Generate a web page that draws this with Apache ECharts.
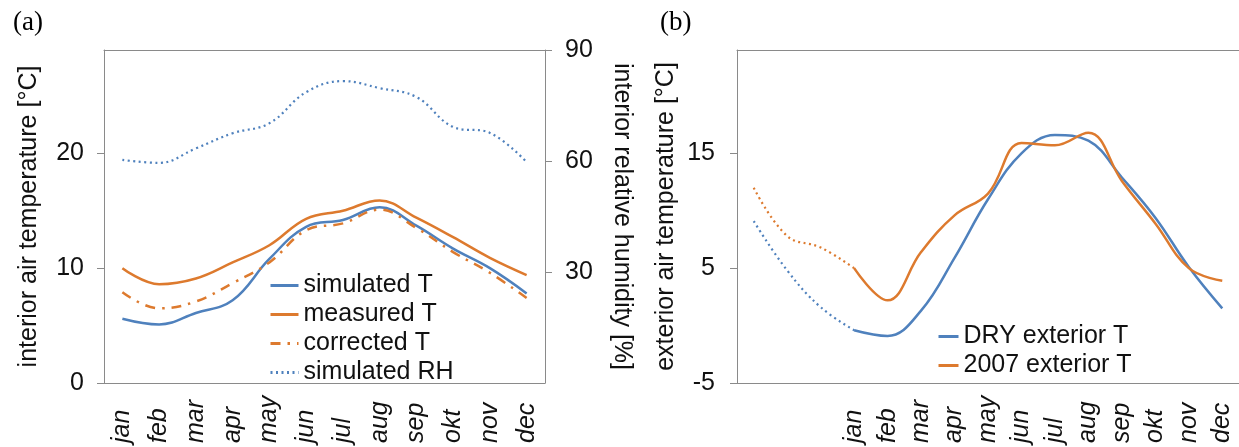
<!DOCTYPE html>
<html>
<head>
<meta charset="utf-8">
<script src="https://cdn.jsdelivr.net/npm/echarts@6/dist/echarts.min.js"></script>
<style>
  html, body { margin: 0; padding: 0; background: #fff; }
  #chart { width: 1239px; height: 447px; }
</style>
</head>
<body>
<div id="chart"></div>
<script>
// months on both panels; panel b has three unlabeled months of the previous year
const months = ['jan', 'feb', 'mar', 'apr', 'may', 'jun', 'jul', 'aug', 'sep', 'okt', 'nov', 'dec'];
const monthsB = ['', '', '', ...months];

// panel (a): interior climate
const simulatedT = [5.6, 5.1, 6.1, 7.2, 10.8, 13.6, 14.2, 15.3, 13.7, 11.7, 10.0, 7.8];
const measuredT = [10.0, 8.6, 9.1, 10.5, 12.0, 14.3, 15.0, 15.9, 14.4, 12.7, 10.9, 9.4];
const correctedT = [7.9, 6.5, 7.1, 8.7, 10.5, 13.3, 13.9, 15.1, 13.5, 11.4, 9.6, 7.4];
const simulatedRH = [60.3, 59.5, 63.4, 67.5, 70.2, 78.6, 81.6, 79.7, 77.3, 69.2, 67.6, 59.7];

// panel (b): exterior temperature (first three points = end of previous year)
const dryT = [9.1, 4.8, 1.6, -0.4, -0.9, 1.3, 5.9, 11.0, 15.0, 16.6, 16.1, 12.9, 9.4, 5.1, 1.5];
const y2007T = [12.0, 7.8, 6.8, 5.0, 2.2, 6.4, 9.6, 11.5, 15.9, 15.7, 16.8, 12.6, 8.9, 5.0, 3.9];

const ticksTempA = [0, 10, 20];
const ticksRH = [30, 60, 90];
const ticksTempB = [-5, 5, 15];

const BLUE = '#4F81BD';
const ORANGE = '#DD7A2E';
const AXIS = '#8a8a8a';
const FONT = 'Liberation Sans, Arial, sans-serif';
const FS = 25;

// split panel b series into dotted (previous year) and solid parts
const prior = arr => arr.map((v, i) => (i <= 3 ? v : null));
const current = arr => arr.map((v, i) => (i >= 3 ? v : null));

const axisLine = { show: true, onZero: false, lineStyle: { color: AXIS, width: 1 } };
const tickStyle = { show: true, inside: false, length: 7, lineStyle: { color: AXIS } };
const labelStyle = { color: '#111', fontSize: FS, fontFamily: FONT };

function catAxis(gridIndex, data) {
  return {
    type: 'category', gridIndex, data, boundaryGap: true,
    axisLine, axisTick: { show: false },
    axisLabel: {
      ...labelStyle, rotate: 90, fontStyle: 'italic', interval: 0,
      align: 'left', verticalAlign: 'middle', margin: 60
    }
  };
}
function topAxis(gridIndex, data) {
  return {
    type: 'category', gridIndex, data, position: 'top',
    axisLine, axisTick: { show: false }, axisLabel: { show: false }
  };
}

const chart = echarts.init(document.getElementById('chart'));

chart.setOption({
  animation: false,
  backgroundColor: '#fff',
  textStyle: { fontFamily: FONT },
  title: [
    { text: '(a)', left: 8, top: 4, textStyle: { fontFamily: 'Liberation Serif, Times New Roman, serif', fontSize: 27, fontWeight: 'normal', color: '#000' } },
    { text: '(b)', left: 655, top: 4, textStyle: { fontFamily: 'Liberation Serif, Times New Roman, serif', fontSize: 27, fontWeight: 'normal', color: '#000' } }
  ],
  grid: [
    { left: 104, top: 50, width: 441, height: 333 },
    { left: 737, top: 50, width: 502, height: 333 }
  ],
  legend: [
    {
      orient: 'vertical', left: 264, top: 268, itemWidth: 28, itemHeight: 14, itemGap: 4,
      itemStyle: { opacity: 0 }, lineStyle: { width: 3 },
      textStyle: { ...labelStyle, lineHeight: 25 },
      data: ['simulated T', 'measured T', 'corrected T', 'simulated RH']
    },
    {
      orient: 'vertical', left: 932, top: 319, itemWidth: 20, itemHeight: 14, itemGap: 4,
      itemStyle: { opacity: 0 }, lineStyle: { width: 3 },
      textStyle: { ...labelStyle, lineHeight: 25 },
      data: ['DRY exterior T', '2007 exterior T']
    }
  ],
  xAxis: [
    catAxis(0, months),
    topAxis(0, months),
    catAxis(1, monthsB),
    topAxis(1, monthsB)
  ],
  yAxis: [
    {
      type: 'value', gridIndex: 0, position: 'left', min: 0, max: 29,
      name: 'interior air temperature [°C]', nameLocation: 'middle', nameGap: 62,
      nameTextStyle: { ...labelStyle },
      axisLine, axisTick: { ...tickStyle, customValues: ticksTempA },
      axisLabel: { ...labelStyle, margin: 20, customValues: ticksTempA },
      splitLine: { show: false }
    },
    {
      type: 'value', gridIndex: 0, position: 'right', min: 0, max: 90, interval: 30,
      name: 'interior relative humidity [%]', nameLocation: 'middle', nameGap: 64, nameRotate: -90,
      nameTextStyle: { ...labelStyle },
      axisLine, axisTick: { ...tickStyle, customValues: ticksRH },
      axisLabel: { ...labelStyle, margin: 20, customValues: ticksRH },
      splitLine: { show: false }
    },
    {
      type: 'value', gridIndex: 1, position: 'left', min: -5, max: 24,
      name: 'exterior air temperature [°C]', nameLocation: 'middle', nameGap: 58,
      nameTextStyle: { ...labelStyle },
      axisLine, axisTick: { ...tickStyle, customValues: ticksTempB },
      axisLabel: { ...labelStyle, margin: 22, customValues: ticksTempB },
      splitLine: { show: false }
    }
  ],
  series: [
    {
      name: 'simulated T', type: 'line', xAxisIndex: 0, yAxisIndex: 0, data: simulatedT,
      smooth: 0.4, showSymbol: false, symbol: 'none', color: BLUE,
      lineStyle: { color: BLUE, width: 2.5 }
    },
    {
      name: 'measured T', type: 'line', xAxisIndex: 0, yAxisIndex: 0, data: measuredT,
      smooth: 0.4, showSymbol: false, symbol: 'none', color: ORANGE,
      lineStyle: { color: ORANGE, width: 2.5 }
    },
    {
      name: 'corrected T', type: 'line', xAxisIndex: 0, yAxisIndex: 0, data: correctedT,
      smooth: 0.4, showSymbol: false, symbol: 'none', color: ORANGE,
      lineStyle: { color: ORANGE, width: 2.5, type: [10, 7, 2.5, 7] }
    },
    {
      name: 'simulated RH', type: 'line', xAxisIndex: 0, yAxisIndex: 1, data: simulatedRH,
      smooth: 0.4, showSymbol: false, symbol: 'none', color: BLUE,
      lineStyle: { color: BLUE, width: 2.2, type: [2, 3.5] }
    },
    {
      name: 'DRY previous', type: 'line', xAxisIndex: 2, yAxisIndex: 2, data: prior(dryT),
      smooth: 0.4, showSymbol: false, symbol: 'none', color: BLUE,
      lineStyle: { color: BLUE, width: 2.2, type: [2, 3.5] }
    },
    {
      name: '2007 previous', type: 'line', xAxisIndex: 2, yAxisIndex: 2, data: prior(y2007T),
      smooth: 0.4, showSymbol: false, symbol: 'none', color: ORANGE,
      lineStyle: { color: ORANGE, width: 2.2, type: [2, 3.5] }
    },
    {
      name: 'DRY exterior T', type: 'line', xAxisIndex: 2, yAxisIndex: 2, data: current(dryT),
      smooth: 0.4, showSymbol: false, symbol: 'none', color: BLUE,
      lineStyle: { color: BLUE, width: 2.5 }
    },
    {
      name: '2007 exterior T', type: 'line', xAxisIndex: 2, yAxisIndex: 2, data: current(y2007T),
      smooth: 0.4, showSymbol: false, symbol: 'none', color: ORANGE,
      lineStyle: { color: ORANGE, width: 2.5 }
    }
  ]
});
</script>
</body>
</html>
